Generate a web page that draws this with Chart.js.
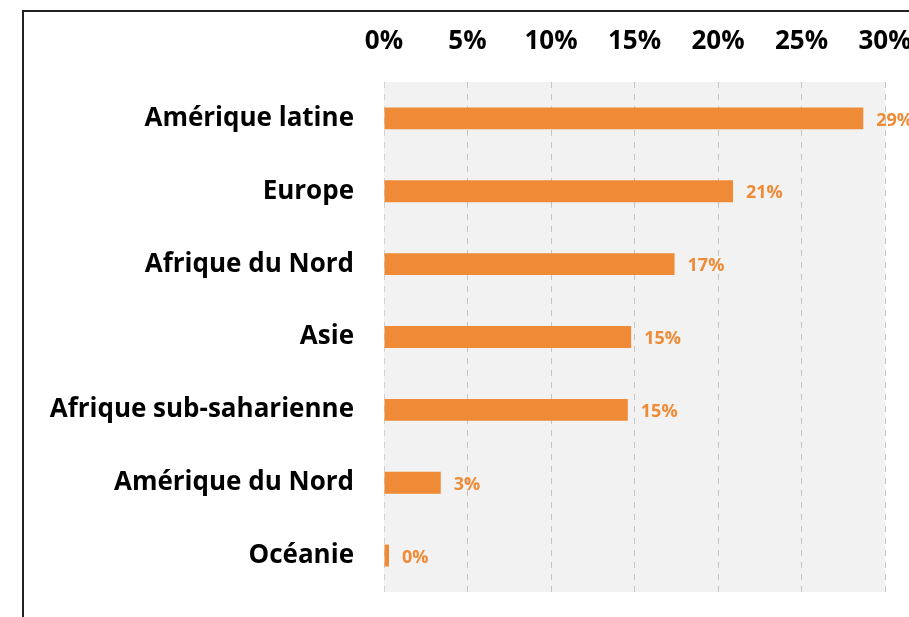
<!DOCTYPE html>
<html>
<head>
<meta charset="utf-8">
<script src="https://cdn.jsdelivr.net/npm/chart.js@4.4.1/dist/chart.umd.min.js"></script>
<style>
    html, body { margin: 0; padding: 0; background: #fff; overflow: hidden; }
    #frame {
        position: absolute; left: 22px; top: 10px; width: 1000px; height: 700px;
        border-left: 2px solid #222; border-top: 2px solid #222;
    }
    #wrap { position: absolute; left: 0; top: 0; width: 909px; height: 617px; }
</style>
</head>
<body>
<div id="frame"></div>
<div id="wrap"><canvas id="chart"></canvas></div>
<script>
// Regions and share of respondents (%)
const regions = ['Amérique latine', 'Europe', 'Afrique du Nord', 'Asie', 'Afrique sub-saharienne', 'Amérique du Nord', 'Océanie'];
const shares = [28.7, 20.9, 17.4, 14.8, 14.6, 3.4, 0.3];
const tickValues = [0, 5, 10, 15, 20, 25, 30];

const FONT = '"Open Sans", Lato, sans-serif';
const ORANGE = '#ef8b36';

// grey plot background
const plotBackground = {
    id: 'plotBackground',
    beforeDraw: function (chart) {
        const a = chart.chartArea;
        const ctx = chart.ctx;
        ctx.save();
        ctx.fillStyle = '#f2f2f2';
        ctx.fillRect(a.left, a.top, a.right - a.left, a.bottom - a.top);
        ctx.restore();
    }
};

// value labels after each bar
const valueLabels = {
    id: 'valueLabels',
    afterDatasetsDraw: function (chart) {
        const ctx = chart.ctx;
        const meta = chart.getDatasetMeta(0);
        ctx.save();
        ctx.fillStyle = ORANGE;
        ctx.font = 'bold 18px ' + FONT;
        ctx.textAlign = 'left';
        ctx.textBaseline = 'middle';
        meta.data.forEach(function (bar, i) {
            ctx.fillText(Math.round(shares[i]) + '%', bar.x + 13, bar.y + 2);
        });
        ctx.restore();
    }
};

new Chart(document.getElementById('chart'), {
    type: 'bar',
    data: {
        labels: regions,
        datasets: [{
            data: shares,
            backgroundColor: ORANGE,
            borderWidth: 0,
            barPercentage: 0.3,
            categoryPercentage: 1
        }]
    },
    options: {
        indexAxis: 'y',
        responsive: true,
        maintainAspectRatio: false,
        animation: false,
        layout: { padding: { top: 0, right: 24, bottom: 25, left: 0 } },
        scales: {
            x: {
                position: 'top',
                min: 0,
                max: 30,
                afterBuildTicks: function (scale) {
                    scale.ticks = tickValues.map(function (v) { return { value: v }; });
                },
                afterFit: function (scale) {
                    scale.height = 82;
                    scale.paddingLeft = 0;
                    scale.paddingRight = 0;
                },
                grid: {
                    color: function (c) { return c.index === 0 ? '#d0d0d0' : '#c4c4c4'; },
                    lineWidth: 1,
                    drawTicks: false
                },
                border: { display: false, dash: [6, 6] },
                ticks: {
                    padding: 25,
                    color: '#000',
                    font: { size: 26, weight: 'bold', family: FONT },
                    callback: function (v) { return v + '%'; }
                }
            },
            y: {
                afterFit: function (scale) {
                    scale.width = 384;
                    scale.paddingTop = 0;
                    scale.paddingBottom = 0;
                },
                grid: { display: false },
                border: { display: false },
                ticks: {
                    padding: 22,
                    color: '#000',
                    font: { size: 26, weight: 'bold', family: FONT }
                }
            }
        },
        plugins: {
            legend: { display: false },
            tooltip: { enabled: false }
        }
    },
    plugins: [plotBackground, valueLabels]
});
</script>
</body>
</html>
